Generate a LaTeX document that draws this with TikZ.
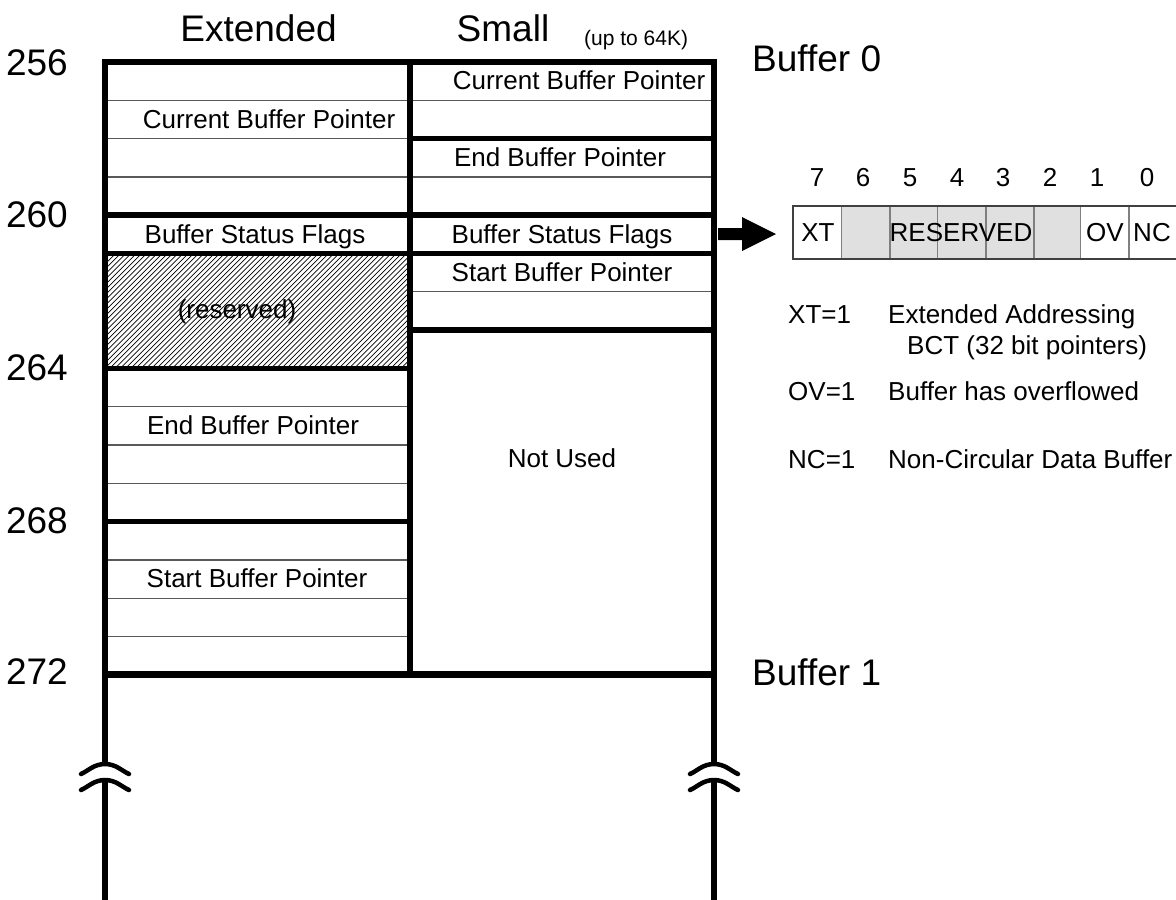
\documentclass[tikz,border=0pt]{standalone}
\usepackage{fontspec}
\setmainfont{Liberation Sans}
\usetikzlibrary{calc}
\newcommand\setfs[1]{\fontsize{#1}{#1}\selectfont}
\begin{document}
\begin{tikzpicture}[x=1pt,y=-1pt,
  thickln/.style={line width=5.5pt},
  thinln/.style={line width=1.2pt, draw=black!65},
  celltxt/.style={font=\setfs{26}, inner sep=0pt, anchor=base},
  bigtxt/.style={font=\setfs{37}, inner sep=0pt},
  legtxt/.style={font=\setfs{26}, inner sep=0pt, anchor=base west},
  breakarc/.style={line width=4.5pt, line cap=round},
  divln/.style={line width=1.2pt, draw=black!50},
]
\useasboundingbox (0,0) rectangle (1176,900);

% ---------- hatched reserved area ----------
\begin{scope}
  \clip (105,253.5) rectangle (410,368.4);
  \foreach \k in {0,...,85} \draw[line width=0.7pt] ({-15+\k*5.2},368.4) -- ++(120,-120);
\end{scope}

% ---------- thin row lines ----------
\foreach \yy in {100.3,138.6,176.9,406.7,445,483.3,559.9,598.2,636.5}
  \draw[thinln] (105,\yy) -- (410,\yy);
\foreach \yy in {100.3,176.9,291.8}
  \draw[thinln] (410,\yy) -- (714,\yy);

% ---------- thick lines ----------
\draw[thickln, line join=miter] (105,764) -- (105,62) -- (714,62) -- (714,764);
\draw[thickln] (410,62) -- (410,674.8);
\foreach \yy in {215.2,253.5} \draw[thickln] (105,\yy) -- (714,\yy);
\foreach \yy in {368.4,521.6} \draw[thickln] (105,\yy) -- (410,\yy);
\foreach \yy in {138.6,330.1} \draw[thickln] (410,\yy) -- (714,\yy);
\draw[line width=7pt] (105,674.8) -- (714,674.8);
\draw[thickln] (105,780) -- (105,905);
\draw[thickln] (714,780) -- (714,905);

% ---------- break symbols ----------
\foreach \bx in {105,714} {
  \draw[breakarc] ({\bx-24},774) .. controls ({\bx-17},771) and ({\bx-11},764) .. (\bx,764)
                  .. controls ({\bx+11},764) and ({\bx+17},771) .. ({\bx+24},774);
  \draw[breakarc] ({\bx-24},790) .. controls ({\bx-17},787) and ({\bx-11},780) .. (\bx,780)
                  .. controls ({\bx+11},780) and ({\bx+17},787) .. ({\bx+24},790);
}

% ---------- headers and addresses ----------
\node[bigtxt, anchor=base] (hext) at (258.5,41.7) {Extended};
\node[bigtxt, anchor=base] (hsmall) at (503,41.7) {Small};
\node[font=\setfs{21}, inner sep=0pt, anchor=base west] (hup) at (584,45) {(up to 64K)};
\node[bigtxt, anchor=base east] (a256) at (68,75) {256};
\node[bigtxt, anchor=base east] (a260) at (68,227.5) {260};
\node[bigtxt, anchor=base east] (a264) at (68,380.5) {264};
\node[bigtxt, anchor=base east] (a268) at (68,533.6) {268};
\node[bigtxt, anchor=base east] (a272) at (68,684) {272};
\node[bigtxt, anchor=base west] (buf0) at (752,71.7) {Buffer 0};
\node[bigtxt, anchor=base west] (buf1) at (752,685) {Buffer 1};

% ---------- cell texts ----------
\node[celltxt] (lcur) at (269,128) {Current Buffer Pointer};
\node[celltxt] (lbsf) at (255,243) {Buffer Status Flags};
\node[celltxt] (lres) at (237,318) {(reserved)};
\node[celltxt] (lend) at (253,434.4) {End Buffer Pointer};
\node[celltxt] (lsta) at (257,587.5) {Start Buffer Pointer};
\node[celltxt] (rcur) at (579,89.7) {Current Buffer Pointer};
\node[celltxt] (rend) at (560,166.2) {End Buffer Pointer};
\node[celltxt] (rbsf) at (562,243) {Buffer Status Flags};
\node[celltxt] (rsta) at (562,281.2) {Start Buffer Pointer};
\node[celltxt] (rnu) at (562,467.5) {Not Used};

% ---------- status register ----------
\fill[black!12] (841.7,206) rectangle (1080.7,259);
\foreach \xx in {841.7,890,937.7,986,1034,1080.7,1129}
  \draw[divln] (\xx,206) -- (\xx,259);
\draw[line width=1.3pt, draw=black!75] (1180,206) -- (793,206) -- (793,259) -- (1180,259);
\coordinate (regL) at (793,234);
\coordinate (srcR) at (718,234);
\foreach \bit/\xx in {7/817,6/863,5/910,4/957,3/1003,2/1050,1/1097,0/1147}
  \node[celltxt] (bit\bit) at (\xx,186.3) {\bit};
\node[celltxt] (fxt) at (818,241.8) {XT};
\node[celltxt] (fres) at (961,241.8) {RESERVED};
\node[celltxt] (fov) at (1105,241.8) {OV};
\node[celltxt] (fnc) at (1152,241.8) {NC};

% ---------- arrow ----------
\fill ($(srcR)+(0,-6)$) -- ($(srcR)+(24,-6)$) -- ($(srcR)+(24,-17)$) -- ($(regL)+(-17,0)$)
      -- ($(srcR)+(24,17)$) -- ($(srcR)+(24,6)$) -- ($(srcR)+(0,6)$) -- cycle;

% ---------- legend ----------
\node[legtxt] (kxt) at (788,323) {XT=1};
\node[legtxt] (dxt) at (888,323) {Extended Addressing};
\node[legtxt] (dxt2) at (907,354) {BCT (32 bit pointers)};
\node[legtxt] (kov) at (788,400) {OV=1};
\node[legtxt] (dov) at (888,400) {Buffer has overflowed};
\node[legtxt] (knc) at (788,468) {NC=1};
\node[legtxt] (dnc) at (888,468) {Non-Circular Data Buffer};
\end{tikzpicture}
\end{document}
